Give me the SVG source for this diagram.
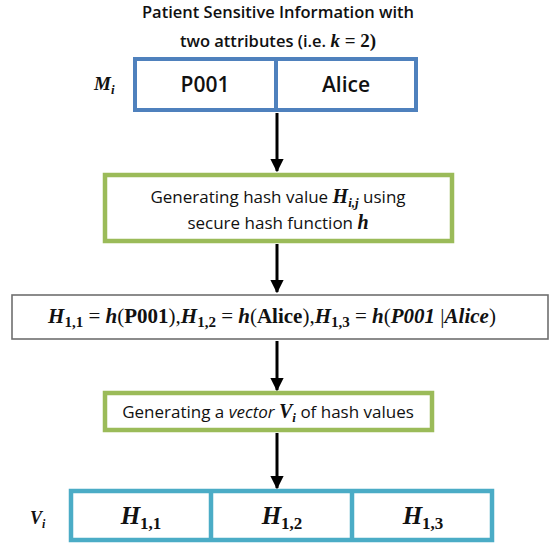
<svg xmlns="http://www.w3.org/2000/svg" width="554" height="546" viewBox="0 0 554 546">
  <defs>
    <marker id="arrowhead" viewBox="0 0 10 10" refX="9" refY="5" markerWidth="4.4" markerHeight="4.4" orient="auto" markerUnits="strokeWidth">
      <path d="M0,0 L10,5 L0,10 z" fill="#000"/>
    </marker>
  </defs>
  <style>
    .sans { font-family: "Open Sans", "Noto Sans", "Liberation Sans", sans-serif; fill: #111; }
    .cell { font-family: "Open Sans", "Noto Sans", sans-serif; font-weight: 600; font-size: 21px; fill: #111; }
    .math { font-family: "Liberation Serif", "DejaVu Serif", serif; fill: #111; }
    .bi { font-weight: bold; font-style: italic; }
    .b { font-weight: bold; }
    .blue { fill: #fff; stroke: #4f81bd; stroke-width: 4; }
    .green { fill: #fff; stroke: #9bbb59; stroke-width: 4.5; }
    .teal { fill: #fff; stroke: #4bacc6; stroke-width: 4.5; }
    .grey { fill: #fff; stroke: #6f6f6f; stroke-width: 1.6; }
    .conn { stroke: #000; stroke-width: 3; fill: none; marker-end: url(#arrowhead); }
  </style>
  <rect width="554" height="546" fill="#fff"/>

  <!-- heading -->
  <g id="title">
    <text class="sans" x="278" y="18" font-size="16.5" font-weight="600" text-anchor="middle">Patient Sensitive Information with</text>
    <text class="sans" x="278" y="47" font-size="16.5" font-weight="600" text-anchor="middle">two attributes (i.e. <tspan class="math bi" font-size="19">k</tspan><tspan class="math" font-size="19"> = </tspan><tspan class="math b" font-size="19">2</tspan><tspan class="math" font-size="19">)</tspan></text>
  </g>

  <!-- record M_i -->
  <g id="record">
    <text class="math bi" x="94" y="90" font-size="19">M<tspan font-size="13" dy="4">i</tspan></text>
    <rect class="blue" x="135" y="59" width="281" height="51"/>
    <line x1="276" y1="59" x2="276" y2="110" stroke="#4f81bd" stroke-width="4"/>
    <text class="cell" x="205" y="92" text-anchor="middle">P001</text>
    <text class="cell" x="346" y="92" text-anchor="middle">Alice</text>
  </g>

  <!-- hashing step -->
  <g id="hashing">
    <rect class="green" x="105" y="175" width="347" height="66"/>
    <text class="sans" x="278" y="203" font-size="17" font-weight="500" text-anchor="middle">Generating hash value <tspan class="math bi" font-size="20">H</tspan><tspan class="math bi" font-size="13" dy="4">i,j</tspan><tspan dy="-4"> using</tspan></text>
    <text class="sans" x="278" y="229" font-size="17" font-weight="500" text-anchor="middle">secure hash function <tspan class="math bi" font-size="20">h</tspan></text>
  </g>

  <!-- hash values -->
  <g id="hashes">
    <rect class="grey" x="12" y="295" width="536" height="44"/>
    <text class="math" x="272" y="323" font-size="21" text-anchor="middle"><tspan class="bi">H</tspan><tspan class="b" font-size="15" dy="4">1,1</tspan><tspan dy="-4"> = </tspan><tspan class="bi">h</tspan>(<tspan class="b">P001</tspan>),<tspan class="bi">H</tspan><tspan class="b" font-size="15" dy="4">1,2</tspan><tspan dy="-4"> = </tspan><tspan class="bi">h</tspan>(<tspan class="b">Alice</tspan>),<tspan class="bi">H</tspan><tspan class="b" font-size="15" dy="4">1,3</tspan><tspan dy="-4"> = </tspan><tspan class="bi">h</tspan>(<tspan class="bi">P001 </tspan>|<tspan class="bi">Alice</tspan>)</text>
  </g>

  <!-- vector step -->
  <g id="vectorize">
    <rect class="green" x="105" y="393" width="327" height="37"/>
    <text class="sans" x="268" y="418" font-size="17" font-weight="500" text-anchor="middle">Generating a <tspan font-style="italic">vector</tspan> <tspan class="math bi" font-size="20" fill="#1f3a6e">V</tspan><tspan class="math bi" font-size="13" dy="4" fill="#1f3a6e">i</tspan><tspan dy="-4"> of hash values</tspan></text>
  </g>

  <!-- vector V_i -->
  <g id="vector">
    <text class="math bi" x="30" y="524" font-size="18">V<tspan font-size="12" dy="4">i</tspan></text>
    <rect class="teal" x="71" y="491" width="421" height="49"/>
    <line x1="211" y1="491" x2="211" y2="540" stroke="#4bacc6" stroke-width="4.5"/>
    <line x1="352" y1="491" x2="352" y2="540" stroke="#4bacc6" stroke-width="4.5"/>
    <text class="math" x="141" y="524" font-size="25" text-anchor="middle"><tspan class="bi">H</tspan><tspan class="b" font-size="17" dy="5">1,1</tspan></text>
    <text class="math" x="282" y="524" font-size="25" text-anchor="middle"><tspan class="bi">H</tspan><tspan class="b" font-size="17" dy="5">1,2</tspan></text>
    <text class="math" x="423" y="524" font-size="25" text-anchor="middle"><tspan class="bi">H</tspan><tspan class="b" font-size="17" dy="5">1,3</tspan></text>
  </g>

  <!-- connectors -->
  <g id="connectors">
    <line class="conn" x1="277" y1="113" x2="277" y2="171"/>
    <line class="conn" x1="277" y1="244" x2="277" y2="292"/>
    <line class="conn" x1="277" y1="341" x2="277" y2="390"/>
    <line class="conn" x1="277" y1="433" x2="277" y2="488"/>
  </g>
</svg>
